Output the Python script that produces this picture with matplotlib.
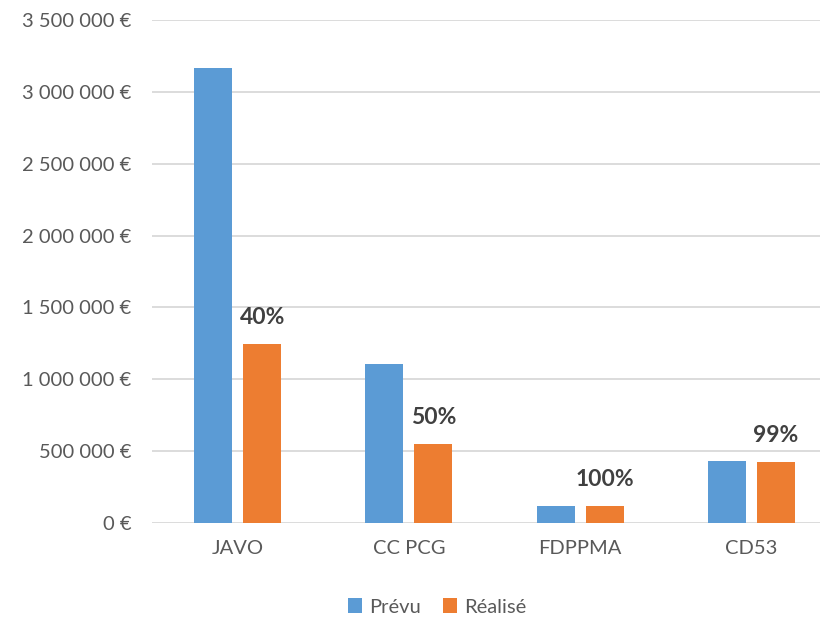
import numpy as np
import matplotlib.pyplot as plt
from matplotlib.ticker import FuncFormatter

# data
categories = ['JAVO', 'CC PCG', 'FDPPMA', 'CD53']
prevu = [3166000, 1106000, 120000, 432000]
realise = [1244000, 552000, 120000, 425000]
pct_labels = ['40%', '50%', '100%', '99%']

BLUE = '#5B9BD5'
ORANGE = '#ED7D31'
GRID = '#D9D9D9'
TXT = '#595959'

plt.rcParams['font.family'] = ['Lato', 'DejaVu Sans']

fig = plt.figure(figsize=(8.23, 6.19), dpi=100)
ax = fig.add_axes([152/823, 96/619, (820-152)/823, 503/619])

x = np.arange(len(categories))
w = 0.222
gap = 0.064
ax.bar(x - (w + gap)/2, prevu, w, color=BLUE, label='Prévu', zorder=3)
bars_r = ax.bar(x + (w + gap)/2, realise, w, color=ORANGE, label='Réalisé', zorder=3)

for b, lab in zip(bars_r, pct_labels):
    ax.annotate(lab, (b.get_x() + b.get_width()/2, b.get_height()),
                xytext=(0, 19), textcoords='offset points', ha='center', va='center',
                fontsize=16.5, fontweight='bold', color='#404040')

ax.set_xlim(-0.5, 3.4)
ax.set_ylim(0, 3500000)
ax.set_yticks(np.arange(0, 3500001, 500000))
ax.yaxis.set_major_formatter(FuncFormatter(lambda v, p: '{:,.0f} €'.format(v).replace(',', ' ')))
ax.set_xticks(x)
ax.set_xticklabels(categories)
ax.tick_params(axis='both', length=0, labelsize=14.5, colors=TXT)
ax.tick_params(axis='y', pad=15)
ax.tick_params(axis='x', pad=12)
ax.grid(axis='y', color=GRID, linewidth=1.3, zorder=0)
for s in ax.spines.values():
    s.set_visible(False)

fig.legend(loc='center', bbox_to_anchor=(437/823, 1 - 607/619), ncol=2, frameon=False,
           fontsize=14.5, handlelength=0.7, handleheight=0.7, handletextpad=0.35,
           columnspacing=1.1, labelcolor=TXT)

fig.savefig('out.png', dpi=100)
